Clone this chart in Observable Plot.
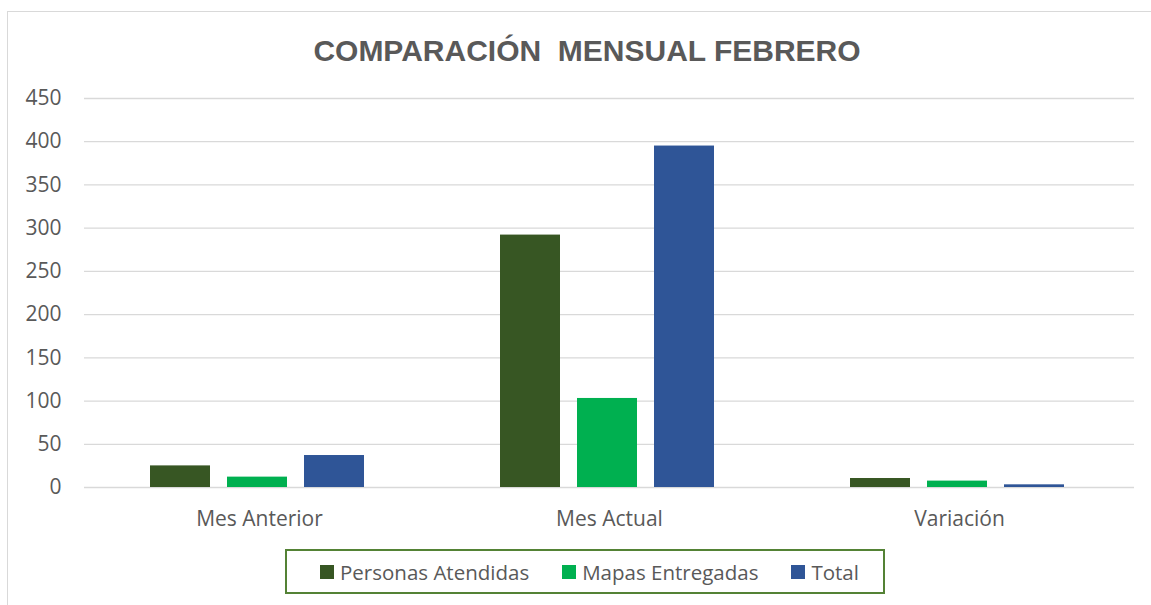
<!DOCTYPE html>
<html>
<head>
<meta charset="utf-8">
<script src="https://cdn.jsdelivr.net/npm/d3@7"></script>
<script src="https://cdn.jsdelivr.net/npm/@observablehq/plot@0.6"></script>
<style>
  html, body { margin: 0; padding: 0; background: #fff; }
  body { width: 1151px; height: 605px; position: relative; overflow: hidden; font-family: "Open Sans", sans-serif; }
  #frame { position: absolute; left: 7px; top: 11px; width: 1170px; height: 620px; border: 1px solid #d9d9d9; box-sizing: border-box; }
  #title { position: absolute; left: 7px; width: 1160px; top: 36px; text-align: center; font: bold 30px/30px "Liberation Sans", Arial, sans-serif; color: #595959; white-space: pre; }
  #plot { position: absolute; left: 0; top: 0; }
  #legend { position: absolute; left: 285px; top: 549px; width: 600px; height: 45px; box-sizing: border-box; border: 2px solid #548235; display: flex; justify-content: flex-start; align-items: center; gap: 33px; font-size: 20.5px; color: #595959; padding-left: 33px; }
  .item { display: flex; align-items: center; gap: 6px; }
  .sw { width: 14px; height: 14px; display: inline-block; }
</style>
</head>
<body>
<div id="frame"></div>
<div id="title"></div>
<div id="plot"></div>
<div id="legend"></div>
<script>
const titleText = "COMPARACIÓN  MENSUAL FEBRERO";
const categories = ["Mes Anterior", "Mes Actual", "Variación"];
const series = ["Personas Atendidas", "Mapas Entregadas", "Total"];
const colors = ["#375623", "#00b050", "#2f5597"];
const personasAtendidas = [25, 292, 10.4];
const mapasEntregadas = [12, 103, 7.4];
const total = [37, 395, 3.1];
const yTicks = [0, 50, 100, 150, 200, 250, 300, 350, 400, 450];

const seriesValues = [personasAtendidas, mapasEntregadas, total];
const rows = [];
categories.forEach((c, i) => {
  series.forEach((s, j) => rows.push({cat: c, series: s, value: seriesValues[j][i]}));
});

document.getElementById("title").textContent = titleText;

const chart = Plot.plot({
  width: 1151,
  height: 540,
  marginLeft: 83,
  marginRight: 16,
  marginTop: 98,
  marginBottom: 53,
  style: {fontFamily: "'Open Sans', sans-serif", fontSize: "21px", color: "#595959", background: "transparent", overflow: "visible"},
  fx: {domain: categories, padding: 0, tickSize: 0, tickPadding: 24, label: null},
  x: {domain: series, axis: null, paddingInner: 0.218, paddingOuter: 0.853, align: 0.488},
  y: {domain: [0, 450], ticks: yTicks, tickSize: 0, tickPadding: 23, label: null},
  color: {domain: series, range: colors},
  marks: [
    Plot.gridY(yTicks, {stroke: "#d9d9d9", strokeOpacity: 1, strokeWidth: 1.3}),
    Plot.barY(rows, {fx: "cat", x: "series", y: "value", fill: "series", inset: 0})
  ]
});
document.getElementById("plot").appendChild(chart);

const legend = document.getElementById("legend");
series.forEach((s, j) => {
  const it = document.createElement("div");
  it.className = "item";
  const sw = document.createElement("span");
  sw.className = "sw";
  sw.style.background = colors[j];
  const tx = document.createElement("span");
  tx.textContent = s;
  it.appendChild(sw);
  it.appendChild(tx);
  legend.appendChild(it);
});
</script>
</body>
</html>
